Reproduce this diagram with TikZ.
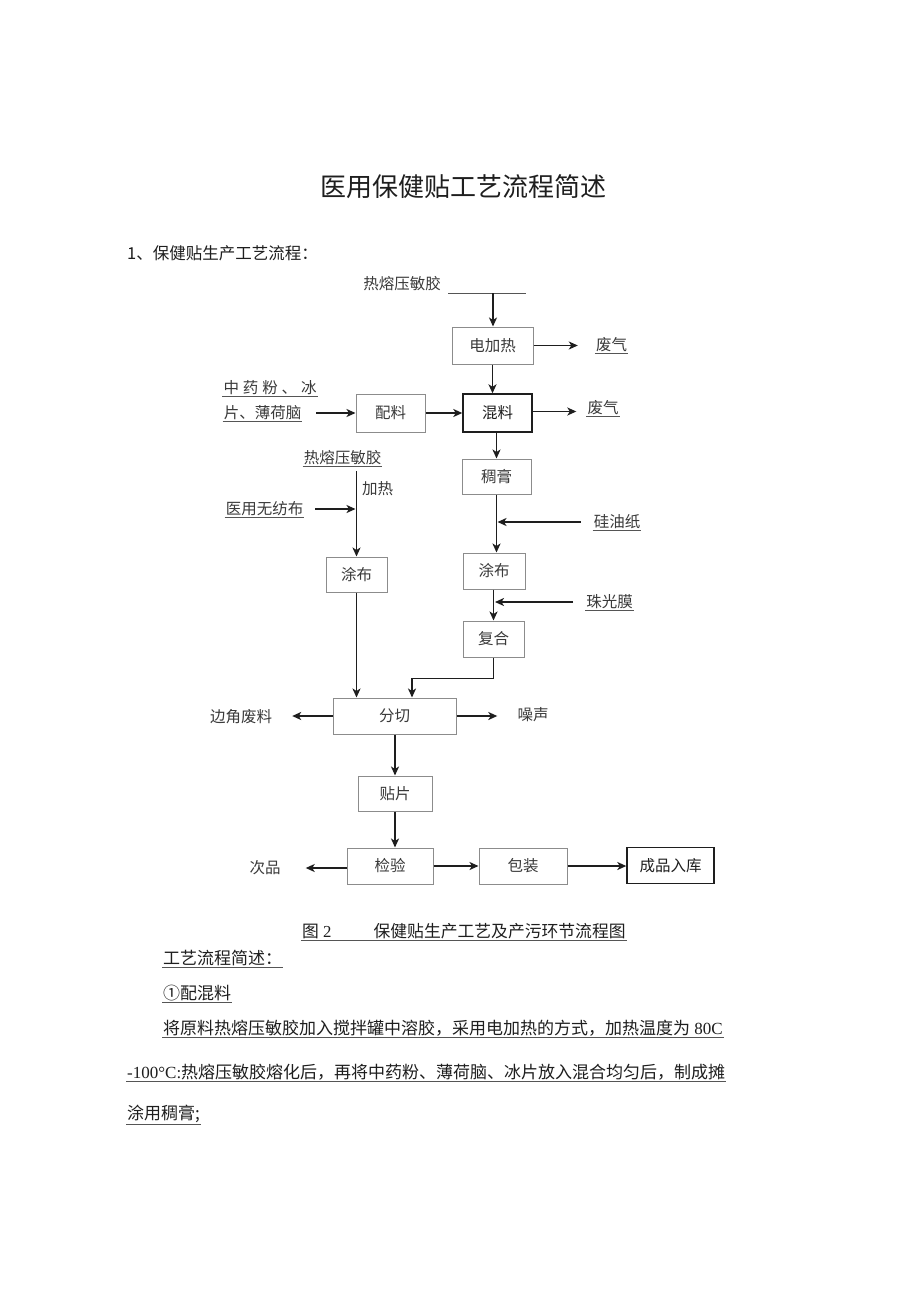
\documentclass[tikz,border=0pt]{standalone}
\usepackage{fontspec}
\usepackage{tikz}
\usetikzlibrary{arrows.meta, positioning, calc}
\newfontfamily\cjk{Noto Sans CJK SC}
\newfontfamily\latinserif{Liberation Serif}
\definecolor{InkDark}{HTML}{1E1E1E}
\definecolor{BoxGray}{HTML}{8C8C8C}
\definecolor{LineGray}{HTML}{555555}
\definecolor{TextGray}{HTML}{3A3A3A}
\newcommand{\diagfont}{\cjk\fontsize{15.5pt}{18pt}\selectfont}
\newcommand{\bodyfont}{\cjk\fontsize{17pt}{20pt}\selectfont}

\begin{document}
\begin{tikzpicture}[x=1pt, y=-1pt,
    stepbox/.style={draw=BoxGray, line width=1pt, inner sep=0pt, font=\diagfont, text=TextGray},
    keybox/.style={draw=InkDark, line width=1.4pt, inner sep=0pt, font=\diagfont, text=InkDark},
    lbl/.style={inner sep=1pt, font=\diagfont, text=TextGray},
    ul/.style={append after command={(\tikzlastnode.south west) edge[draw=LineGray, line width=0.9pt] (\tikzlastnode.south east)}},
    arr/.style={draw=InkDark, line width=1.6pt, -{Stealth[length=9pt, width=8pt, inset=2.5pt]}}]
    \fill[white] (0,0) rectangle (920,1301);
    \useasboundingbox (0,0) rectangle (920,1301);

    % heading
    \node[font=\cjk\fontsize{26pt}{30pt}\selectfont, text=InkDark] (title) at (463,187) {医用保健贴工艺流程简述};
    \node[anchor=west, inner sep=0pt, font=\cjk\fontsize{16.5pt}{20pt}\selectfont, text=InkDark] (sect) at (127,253) {1、保健贴生产工艺流程：};

    % process boxes
    \node[stepbox, minimum width=81pt, minimum height=37pt] (heat) at (492.5,345.5) {电加热};
    \node[keybox, minimum width=69pt, minimum height=38pt] (mix) at (497.5,413) {混料};
    \node[stepbox, minimum width=69pt, minimum height=38pt] (prep) at (390.5,413) {配料};
    \node[stepbox, minimum width=69pt, minimum height=35pt] (paste) at (496.5,476.5) {稠膏};
    \node[stepbox, minimum width=62pt, minimum height=36pt] (coatR) at (494,571) {涂布};
    \node[stepbox, minimum width=61pt, minimum height=36pt] (lam) at (493.5,639) {复合};
    \node[stepbox, minimum width=61pt, minimum height=35pt] (coatL) at (356.5,574.5) {涂布};
    \node[stepbox, minimum width=123pt, minimum height=36pt] (slit) at (394.5,716) {分切};
    \node[stepbox, minimum width=74pt, minimum height=35pt] (patch) at (395,793.5) {贴片};
    \node[stepbox, minimum width=86pt, minimum height=36pt] (check) at (390,866) {检验};
    \node[stepbox, minimum width=88pt, minimum height=36pt] (pack) at (523,866) {包装};
    \node[keybox, minimum width=87pt, minimum height=36pt] (store) at (670.5,865.5) {成品入库};

    % inputs and outputs
    \node[lbl] (glueT) at (402,284) {热熔压敏胶};
    \coordinate (feedL) at (448,293);
    \coordinate (feedR) at (526,293);
    \coordinate (feedM) at (493,293);
    \node[lbl, ul] (gasA) at (611.5,345) {废气};
    \node[lbl, ul] (gasB) at (603,408) {废气};
    \node[lbl, ul] (herbA) at (270,388) {\makebox[93pt][s]{中\hfill 药\hfill 粉\hfill 、\hfill 冰}};
    \node[lbl, ul] (herbB) at (262.5,413) {片、薄荷脑};
    \node[lbl, ul] (glueL) at (342.5,458) {热熔压敏胶};
    \node[lbl] (heatL) at (377.5,489) {加热};
    \node[lbl, ul] (fabric) at (264.5,509) {医用无纺布};
    \node[lbl, ul] (paper) at (617,522) {硅油纸};
    \node[lbl, ul] (film) at (609.5,602) {珠光膜};
    \node[lbl] (scrap) at (241,717) {边角废料};
    \node[lbl] (noise) at (533,715) {噪声};
    \node[lbl] (reject) at (265,868) {次品};

    % connectors
    \draw[LineGray, line width=1pt] (feedL) -- (feedR);
    \draw[arr] (feedM) -- (feedM |- heat.north);
    \draw[arr, shorten >=17pt] (heat.east) -- (heat.east -| gasA.west);
    \draw[arr] (heat.south) -- (heat.south |- mix.north);
    \draw[arr, shorten >=10pt] ([yshift=1.5pt]mix.east) -- ([yshift=1.5pt]mix.east -| gasB.west);
    \draw[arr, shorten <=14pt] (herbB.east) -- (herbB.east -| prep.west);
    \draw[arr] (prep.east) -- (mix.west);
    \draw[arr] (mix.south -| paste.north) -- (paste.north);
    \draw[arr] (paste.south) -- (paste.south |- coatR.north);
    \draw[arr, shorten <=12pt, shorten >=1pt] (paper.west) -- (paper.west -| paste.south);
    \draw[arr] (coatR.south -| lam.north) -- (lam.north);
    \draw[arr, shorten <=12pt, shorten >=1pt] (film.west) -- (film.west -| coatR.south);
    \draw[arr, shorten <=5pt] (glueL.south -| coatL.north) -- (coatL.north);
    \draw[arr, shorten <=11pt, shorten >=1pt] (fabric.east) -- (fabric.east -| coatL.north);
    \draw[arr] (coatL.south) -- (coatL.south |- slit.north);
    \draw[arr] (lam.south) -- ++(0,21) -| ([xshift=17.5pt]slit.north);
    \draw[arr, shorten >=19pt] (slit.west) -- (slit.west -| scrap.east);
    \draw[arr, shorten >=19pt] (slit.east) -- (slit.east -| noise.west);
    \draw[arr] (slit.south -| patch.north) -- (patch.north);
    \draw[arr] (patch.south) -- (patch.south |- check.north);
    \draw[arr, shorten >=24pt] ([yshift=-2pt]check.west) -- ([yshift=-2pt]check.west -| reject.east);
    \draw[arr] (check.east) -- (pack.west);
    \draw[arr] (pack.east) -- (pack.east -| store.west);

    % caption and text below
    \node[anchor=west, inner sep=1pt, ul, font=\cjk\fontsize{16.8pt}{20pt}\selectfont, text=InkDark] (cap) at (301,931) {图{\latinserif\ 2}\hspace{42pt}保健贴生产工艺及产污环节流程图};
    \node[anchor=west, inner sep=1pt, ul, font=\bodyfont, text=InkDark] (sumhead) at (162,958) {工艺流程简述：};
    \node[anchor=west, inner sep=1pt, ul, font=\bodyfont, text=InkDark] (stepone) at (162,993) {①配混料};
    \node[anchor=west, inner sep=1pt, ul, font=\bodyfont, text=InkDark] (lineA) at (162,1028) {将原料热熔压敏胶加入搅拌罐中溶胶，采用电加热的方式，加热温度为{\latinserif\ 80C}};
    \node[anchor=west, inner sep=1pt, ul, font=\bodyfont, text=InkDark] (lineB) at (126,1072) {{\latinserif -100°C:}热熔压敏胶熔化后，再将中药粉、薄荷脑、冰片放入混合均匀后，制成摊};
    \node[anchor=west, inner sep=1pt, ul, font=\bodyfont, text=InkDark] (lineC) at (126,1114) {涂用稠膏;};
\end{tikzpicture}
\end{document}
